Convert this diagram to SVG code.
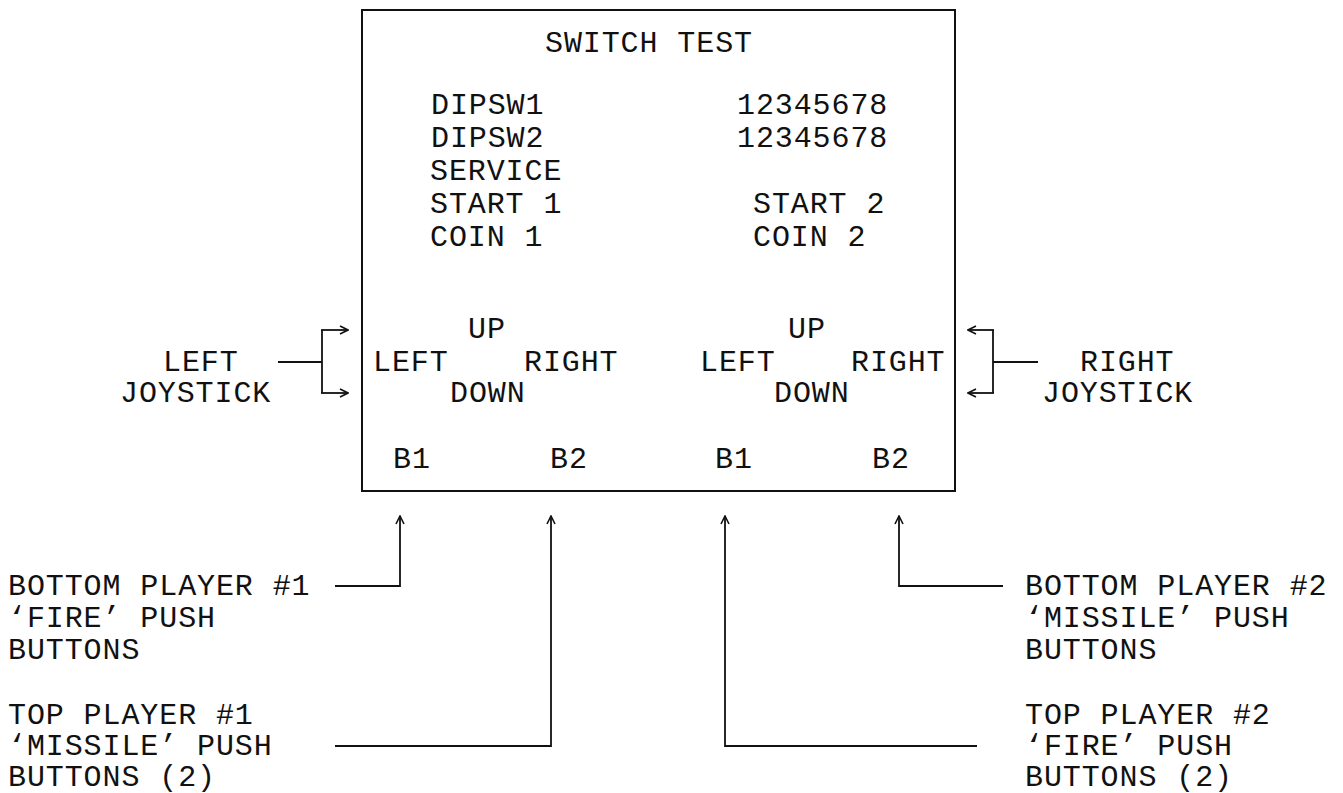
<svg xmlns="http://www.w3.org/2000/svg" width="1343" height="793" viewBox="0 0 1343 793">
<style>
  text { font-family: "Liberation Mono", "DejaVu Sans Mono", monospace; font-size: 30px; letter-spacing: 0.9px; fill: #111; }
  .box { fill: none; stroke: #111; stroke-width: 2; }
  .ln { fill: none; stroke: #111; stroke-width: 1.8; }
</style>
<defs>
  <marker id="ah" viewBox="0 0 10 10" refX="9" refY="5" markerWidth="10" markerHeight="10" markerUnits="userSpaceOnUse" orient="auto">
    <path d="M1,1 L9,5 L1,9" fill="none" stroke="#111" stroke-width="1.6"/>
  </marker>
</defs>
<rect width="1343" height="793" fill="#fff"/>

<g id="screen">
  <rect x="362" y="10" width="593" height="481" class="box"/>
  <text x="545" y="52">SWITCH TEST</text>
  <text x="431" y="114">DIPSW1</text>
  <text x="737" y="114">12345678</text>
  <text x="431" y="147">DIPSW2</text>
  <text x="737" y="147">12345678</text>
  <text x="430" y="180">SERVICE</text>
  <text x="430" y="213">START 1</text>
  <text x="753" y="213">START 2</text>
  <text x="430" y="246">COIN 1</text>
  <text x="753" y="246">COIN 2</text>
  <text x="468" y="338">UP</text>
  <text x="373" y="371">LEFT</text>
  <text x="524" y="371">RIGHT</text>
  <text x="450" y="402">DOWN</text>
  <text x="788" y="338">UP</text>
  <text x="700" y="371">LEFT</text>
  <text x="851" y="371">RIGHT</text>
  <text x="774" y="402">DOWN</text>
  <text x="393" y="468">B1</text>
  <text x="550" y="468">B2</text>
  <text x="715" y="468">B1</text>
  <text x="872" y="468">B2</text>
</g>

<g id="left-joystick">
  <text x="163" y="371">LEFT</text>
  <text x="120" y="402">JOYSTICK</text>
</g>
<g id="right-joystick">
  <text x="1080" y="371">RIGHT</text>
  <text x="1042" y="402">JOYSTICK</text>
</g>
<g id="bottom-player-1">
  <text x="8" y="595">BOTTOM PLAYER #1</text>
  <text x="8" y="627">‘FIRE’ PUSH</text>
  <text x="8" y="659">BUTTONS</text>
</g>
<g id="top-player-1">
  <text x="8" y="724">TOP PLAYER #1</text>
  <text x="8" y="755">‘MISSILE’ PUSH</text>
  <text x="8" y="786">BUTTONS (2)</text>
</g>
<g id="bottom-player-2">
  <text x="1025" y="595">BOTTOM PLAYER #2</text>
  <text x="1025" y="627">‘MISSILE’ PUSH</text>
  <text x="1025" y="659">BUTTONS</text>
</g>
<g id="top-player-2">
  <text x="1025" y="724">TOP PLAYER #2</text>
  <text x="1025" y="755">‘FIRE’ PUSH</text>
  <text x="1025" y="786">BUTTONS (2)</text>
</g>

<g id="connectors">
  <line x1="278" y1="362" x2="322" y2="362" class="ln"/>
  <line x1="322" y1="330" x2="322" y2="393" class="ln"/>
  <line x1="321" y1="330" x2="348" y2="330" class="ln" marker-end="url(#ah)"/>
  <line x1="321" y1="393" x2="348" y2="393" class="ln" marker-end="url(#ah)"/>

  <line x1="1038" y1="362" x2="993" y2="362" class="ln"/>
  <line x1="993" y1="330" x2="993" y2="393" class="ln"/>
  <line x1="994" y1="330" x2="968" y2="330" class="ln" marker-end="url(#ah)"/>
  <line x1="994" y1="393" x2="968" y2="393" class="ln" marker-end="url(#ah)"/>

  <polyline points="335,586 400,586 400,516" class="ln" marker-end="url(#ah)"/>
  <polyline points="335,746 551,746 551,516" class="ln" marker-end="url(#ah)"/>
  <polyline points="977,746 725,746 725,516" class="ln" marker-end="url(#ah)"/>
  <polyline points="1003,586 899,586 899,516" class="ln" marker-end="url(#ah)"/>
</g>
</svg>
